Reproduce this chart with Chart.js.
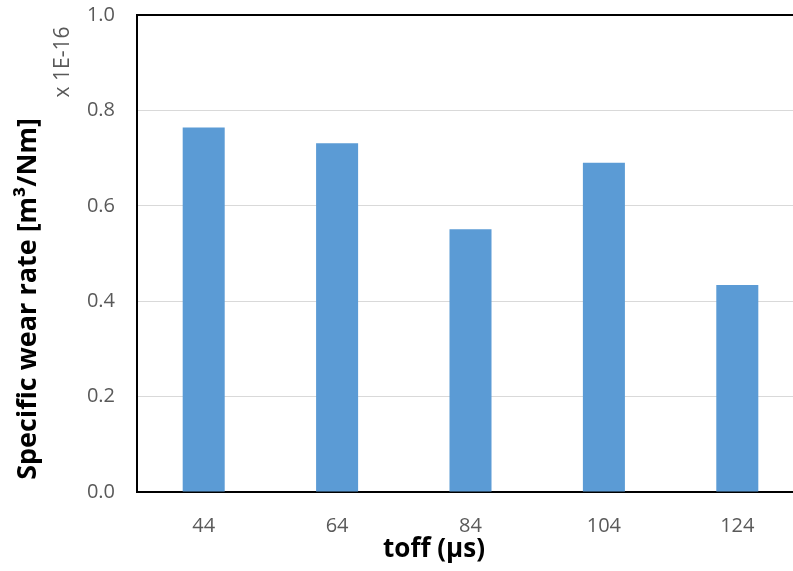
<!DOCTYPE html>
<html>
<head>
<meta charset="utf-8">
<script src="https://cdn.jsdelivr.net/npm/chart.js@4.4.1/dist/chart.umd.min.js"></script>
<style>
  html, body { margin: 0; padding: 0; background: #fff; overflow: hidden; }
  .wrap { width: 830px; height: 571px; }
</style>
</head>
<body>
<div class="wrap"><canvas id="myChart" width="830" height="571"></canvas></div>
<script>
// data
const toffLabels = ['44', '64', '84', '104', '124'];
const wearRate = [0.764, 0.731, 0.551, 0.690, 0.434];
const yTicks = [0.0, 0.2, 0.4, 0.6, 0.8, 1.0];

const grey = '#595959';
const font = '"Open Sans", Lato, sans-serif';

// axis titles + "x 1E-16" multiplier, placed like in the original figure
const axisText = {
  id: 'axisText',
  afterDraw(chart) {
    const c = chart.ctx;
    c.save();
    c.textAlign = 'center';
    c.textBaseline = 'middle';

    c.fillStyle = '#000';
    c.font = 'bold 26px ' + font;
    c.fillText('toff (µs)', 434, 550);

    c.save();
    c.translate(28, 299);
    c.rotate(-Math.PI / 2);
    c.font = 'bold 27px ' + font;
    c.fillText('Specific wear rate [m³/Nm]', 0, 0);
    c.restore();

    c.translate(63, 62);
    c.rotate(-Math.PI / 2);
    c.fillStyle = grey;
    c.font = '21px ' + font;
    c.fillText('x 1E-16', 0, 0);
    c.restore();
  }
};

var ctx = document.getElementById('myChart').getContext('2d');
var chart = new Chart(ctx, {
  type: 'bar',
  data: {
    labels: toffLabels,
    datasets: [{
      data: wearRate,
      backgroundColor: '#5b9bd5',
      barPercentage: 0.315,
      categoryPercentage: 1.0
    }]
  },
  options: {
    responsive: false,
    animation: false,
    layout: { padding: { top: 0, right: 26, left: 0, bottom: 0 } },
    plugins: { legend: { display: false }, tooltip: { enabled: false } },
    scales: {
      x: {
        grid: { display: false },
        border: { display: true, color: '#000', width: 2 },
        ticks: { color: grey, font: { family: font, size: 20 }, padding: 14 },
        afterFit(scale) { scale.height = 79; }
      },
      y: {
        min: 0, max: 1.0,
        afterBuildTicks(scale) { scale.ticks = yTicks.map(v => ({ value: v })); },
        grid: {
          drawTicks: false,
          color: c => c.tick && c.tick.value === 1 ? '#000' : '#d9d9d9',
          lineWidth: c => c.tick && c.tick.value === 1 ? 2 : 1
        },
        border: { display: true, color: '#000', width: 2 },
        ticks: {
          color: grey, font: { family: font, size: 20 }, padding: 22,
          callback: v => v.toFixed(1)
        },
        afterFit(scale) {
          scale.width = 137;
          scale.paddingTop = 15;
          scale.paddingBottom = 0;
        }
      }
    }
  },
  plugins: [axisText]
});
</script>
</body>
</html>
